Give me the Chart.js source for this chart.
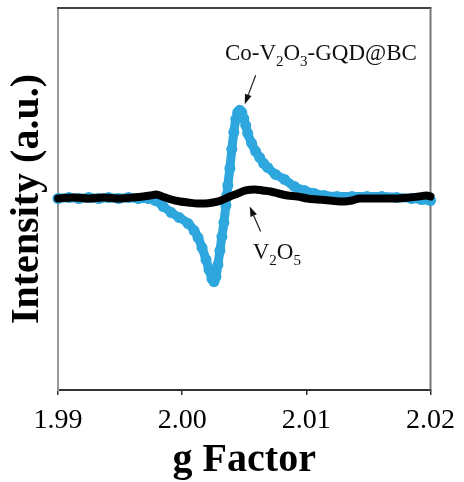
<!DOCTYPE html>
<html>
<head>
<meta charset="utf-8">
<script src="https://cdn.jsdelivr.net/npm/chart.js@4.4.1/dist/chart.umd.min.js"></script>
<style>
  html, body { margin: 0; padding: 0; background: #fff; }
</style>
</head>
<body>
<canvas id="epr" width="464" height="482"></canvas>
<script>
// g factor / intensity
const gCo = [
  1.99000, 1.99088, 1.99168, 1.99248, 1.99328, 1.99408, 1.99488, 1.99568, 1.99648, 1.99728,
  1.99784, 1.99848, 1.99912, 1.99976, 2.00048, 2.00096, 2.00128, 2.00160, 2.00192, 2.00216,
  2.00240, 2.00256, 2.00272, 2.00288, 2.00304, 2.00320, 2.00336, 2.00352, 2.00360, 2.00368,
  2.00384, 2.00400, 2.00416, 2.00432, 2.00448, 2.00464, 2.00480, 2.00496, 2.00512, 2.00528,
  2.00560, 2.00592, 2.00624, 2.00656, 2.00688, 2.00752, 2.00824, 2.00904, 2.00984, 2.01064,
  2.01144, 2.01248, 2.01368, 2.01488, 2.01608, 2.01728, 2.01848, 2.01928, 2.02000
];
const intensityCo = [
  -1, 0, -1, 0, -1, 0, -1, 0, -1, -1,
  -3, -9, -15, -20, -26, -33, -40, -50, -62, -72,
  -81, -84, -79, -67, -53, -39, -25, -8, 2, 12,
  29, 48, 65, 78, 85, 87, 85, 79, 72, 64,
  54, 46, 40, 34, 30, 23, 18, 11, 7, 4,
  2, 1, 1, 1, 1, 0, -1, -2, -3
];
const gV2O5 = [
  1.99000, 1.99128, 1.99248, 1.99368, 1.99488, 1.99608, 1.99688, 1.99744, 1.99792, 1.99840,
  1.99912, 1.99984, 2.00048, 2.00128, 2.00184, 2.00248, 2.00312, 2.00384, 2.00448, 2.00512,
  2.00584, 2.00648, 2.00712, 2.00776, 2.00848, 2.00928, 2.01008, 2.01088, 2.01192, 2.01304,
  2.01368, 2.01432, 2.01528, 2.01624, 2.01728, 2.01832, 2.01904, 2.01968, 2.02000
];
const intensityV2O5 = [
  -1, 0, -1, 0, -1, 0, 1, 2, 3, 1,
  -2, -4, -5, -6, -6, -5, -3, 1, 4, 7,
  8, 7, 6, 4, 2, 1, -1, -2, -3, -4,
  -3, -1, -1, -1, -1, 0, 1, 2, 1
];
const xTicks = [1.99, 2.00, 2.01, 2.02];

// callout labels: [text, isSubscript]
const labelCo = [["Co-V", false], ["2", true], ["O", false], ["3", true], ["-GQD@BC", false]];
const labelV2O5 = [["V", false], ["2", true], ["O", false], ["5", true]];
// text anchor and arrow (from -> to) in g / intensity units
const labelCoAt = { g: 2.00344, y: 137, from: [2.00592, 122], to: [2.00504, 93] };
const labelV2O5At = { g: 2.00568, y: -61, from: [2.00632, -34], to: [2.00544, -9] };

const SERIF = "'Liberation Serif', 'Times New Roman', serif";

function drawRich(ctx, parts, x, y) {
  let cx = x;
  parts.forEach(([txt, sub]) => {
    ctx.font = (sub ? "15px " : "23px ") + SERIF;
    ctx.fillText(txt, cx, sub ? y + 6 : y);
    cx += ctx.measureText(txt).width;
  });
}

function drawArrow(ctx, x1, y1, x2, y2) {
  const ang = Math.atan2(y2 - y1, x2 - x1);
  const len = 10, half = 3.5;
  const bx = x2 - len * Math.cos(ang), by = y2 - len * Math.sin(ang);
  ctx.beginPath();
  ctx.moveTo(x1, y1);
  ctx.lineTo(bx, by);
  ctx.stroke();
  ctx.beginPath();
  ctx.moveTo(x2, y2);
  ctx.lineTo(bx + half * Math.sin(ang), by - half * Math.cos(ang));
  ctx.lineTo(bx - half * Math.sin(ang), by + half * Math.cos(ang));
  ctx.closePath();
  ctx.fill();
}

const frameAndNotes = {
  id: "frameAndNotes",
  beforeDatasetsDraw(chart) {
    const { ctx, chartArea: a } = chart;
    ctx.save();
    ctx.lineWidth = 2;
    ctx.strokeStyle = "#444";
    ctx.beginPath();
    ctx.moveTo(a.left - 1, a.top);
    ctx.lineTo(a.right + 1, a.top);
    ctx.stroke();
    ctx.strokeStyle = "#777";
    ctx.beginPath();
    ctx.moveTo(a.right, a.top);
    ctx.lineTo(a.right, a.bottom);
    ctx.stroke();
    ctx.restore();
  },
  afterDatasetsDraw(chart) {
    const { ctx } = chart;
    const xs = chart.scales.x, ys = chart.scales.y;
    ctx.save();
    ctx.fillStyle = "#111";
    ctx.strokeStyle = "#222";
    ctx.lineWidth = 1.2;
    ctx.textBaseline = "alphabetic";
    [[labelCo, labelCoAt], [labelV2O5, labelV2O5At]].forEach(([parts, at]) => {
      drawRich(ctx, parts, xs.getPixelForValue(at.g), ys.getPixelForValue(at.y));
      drawArrow(ctx,
        xs.getPixelForValue(at.from[0]), ys.getPixelForValue(at.from[1]),
        xs.getPixelForValue(at.to[0]), ys.getPixelForValue(at.to[1]));
    });
    ctx.restore();
  }
};

new Chart(document.getElementById("epr"), {
  type: "line",
  data: {
    datasets: [
      {
        label: "V2O5",
        data: gV2O5.map((g, i) => ({ x: g, y: intensityV2O5[i] })),
        borderColor: "#000",
        backgroundColor: "#000",
        borderWidth: 8,
        borderCapStyle: "round",
        borderJoinStyle: "round",
        pointRadius: 0,
        cubicInterpolationMode: "monotone",
        clip: false,
        order: 0,
      },
      {
        label: "Co-V2O3-GQD@BC",
        data: gCo.map((g, i) => ({ x: g, y: intensityCo[i] })),
        borderColor: "#2ea6de",
        backgroundColor: "#2ea6de",
        borderWidth: 9,
        borderCapStyle: "round",
        borderJoinStyle: "round",
        pointRadius: 5.5,
        pointBorderWidth: 0,
        cubicInterpolationMode: "monotone",
        clip: false,
        order: 1,
      },
    ],
  },
  options: {
    responsive: false,
    animation: false,
    events: [],
    layout: { padding: { top: 8, right: 30, left: 0, bottom: 0 } },
    plugins: {
      legend: { display: false },
      tooltip: { enabled: false },
    },
    scales: {
      x: {
        type: "linear",
        position: "bottom",
        min: 1.99,
        max: 2.02,
        afterBuildTicks: (axis) => { axis.ticks = xTicks.map((v) => ({ value: v })); },
        afterFit: (axis) => { axis.height = 92; },
        border: { color: "#333", width: 2 },
        grid: { drawOnChartArea: false, drawTicks: true, tickLength: 5, color: "#333", lineWidth: 1.5 },
        ticks: {
          color: "#000",
          font: { family: SERIF, size: 28 },
          padding: 9,
          maxRotation: 0,
          autoSkip: false,
          callback: (v) => Number(v).toFixed(2),
        },
        title: {
          display: true,
          text: "g Factor",
          color: "#000",
          font: { family: SERIF, size: 40, weight: "bold", lineHeight: 1.05 },
          padding: { top: 0, bottom: 0 },
        },
      },
      y: {
        min: -192,
        max: 189,
        afterFit: (axis) => { axis.width = 58; },
        border: { color: "#999", width: 2 },
        grid: { display: false },
        ticks: { display: false },
        title: {
          display: true,
          text: "Intensity (a.u.)",
          color: "#000",
          font: { family: SERIF, size: 40, weight: "bold" },
          padding: { top: 4, bottom: 0 },
        },
      },
    },
  },
  plugins: [frameAndNotes],
});
</script>
</body>
</html>
